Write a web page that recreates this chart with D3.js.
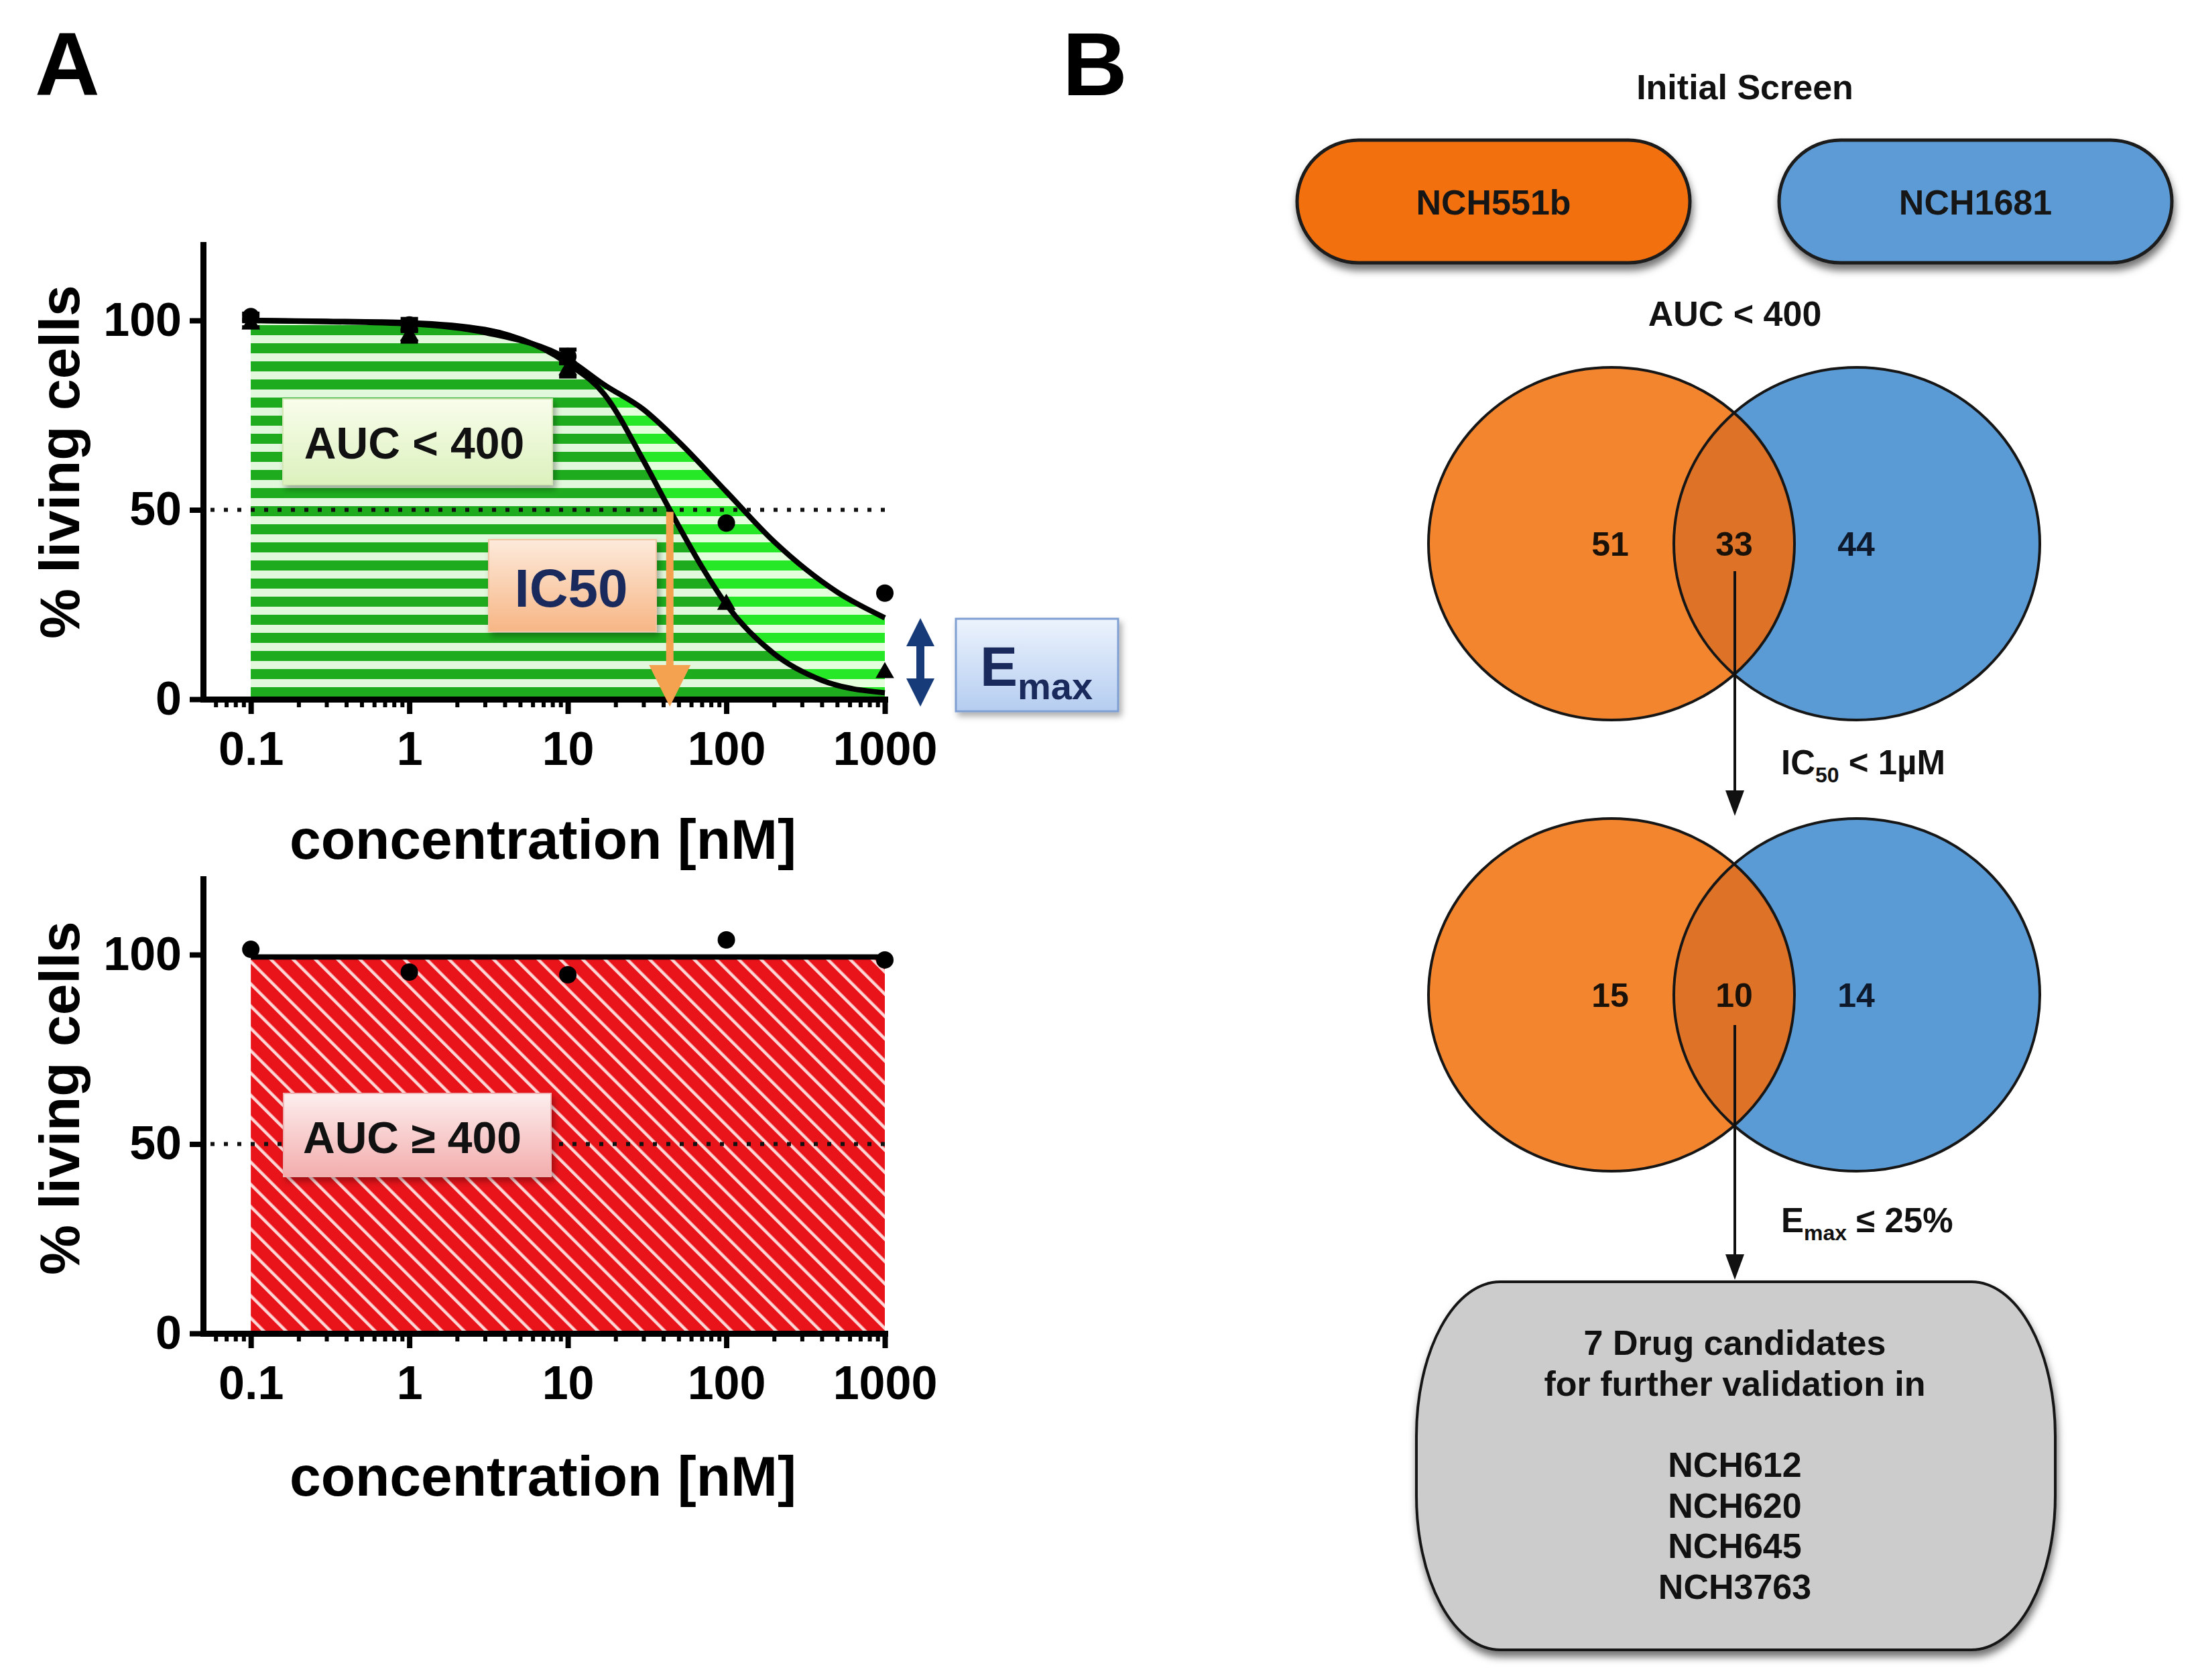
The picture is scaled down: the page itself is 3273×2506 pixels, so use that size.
<!DOCTYPE html>
<html>
<head>
<meta charset="utf-8">
<script src="https://cdn.jsdelivr.net/npm/d3@7/dist/d3.min.js"></script>
<style>
html,body{margin:0;padding:0;background:#fff;}
svg{display:block;}
text{font-family:"Liberation Sans",Arial,Helvetica,sans-serif;font-weight:bold;}
</style>
</head>
<body>
<svg id="fig" width="3273" height="2506" viewBox="0 0 3273 2506"></svg>
<script>
// ---------------- DATA ----------------
const concentrations = [0.1, 1, 10, 100, 1000];          // nM
const xTickLabels = ["0.1", "1", "10", "100", "1000"];
const yTickValues = [0, 50, 100];
const yTickLabels = ["0", "50", "100"];

// sensitive drug (top plot): two cell lines, circles and triangles
const sensCircleMean = [101, 98.8, 90.5, 46.5, 28];
const sensCircleErr  = [0.8, 1.6, 1.8, 0, 0];
const sensTriMean    = [99, 96, 87, 25, 7];
const sensTriErr     = [0.8, 1.6, 1.8, 0, 0];

// fitted curves
const fitCircleConc = [0.1, 0.3, 1, 3, 10, 17, 30, 50, 100, 200, 500, 1000];
const fitCircleVal  = [100, 99.7, 99.1, 96.8, 89.8, 83, 76.5, 68, 54.8, 41.6, 28.3, 21.5];
const fitTriConc    = [0.1, 0.3, 1, 3, 10, 17, 30, 44, 70, 100, 200, 400, 1000];
const fitTriVal     = [100, 99.8, 99.4, 97.6, 88.6, 80.5, 63, 50, 35, 25, 12, 5, 1.7];

// resistant drug (bottom plot)
const resMean    = [101.4, 95.4, 94.7, 103.9, 98.6];
const resFitConc = [0.1, 1000];
const resFitVal  = [99.4, 99.4];

const ic50Conc = 44;      // nM
const halfLevel = 50;     // %

// panel B
const cellLines = ["NCH551b", "NCH1681"];
const vennAUC  = [51, 33, 44];
const vennIC50 = [15, 10, 14];
const resultLines = ["7 Drug candidates", "for further validation in", "", "NCH612", "NCH620", "NCH645", "NCH3763"];

// ---------------- SETUP ----------------
const svg = d3.select("#fig");
svg.append("rect").attr("width", 3273).attr("height", 2506).attr("fill", "#fff");
const defs = svg.append("defs");

function shadow(id, dx, dy, sd, op) {
  const f = defs.append("filter").attr("id", id)
    .attr("x", "-20%").attr("y", "-20%").attr("width", "150%").attr("height", "160%");
  f.append("feDropShadow").attr("dx", dx).attr("dy", dy).attr("stdDeviation", sd)
    .attr("flood-color", "#000").attr("flood-opacity", op);
}
shadow("boxShadow", 4, 6, 5, 0.32);
shadow("pillShadow", 2, 9, 6, 0.55);

function vGrad(id, c1, c2) {
  const g = defs.append("linearGradient").attr("id", id)
    .attr("x1", 0).attr("y1", 0).attr("x2", 0).attr("y2", 1);
  g.append("stop").attr("offset", "0%").attr("stop-color", c1);
  g.append("stop").attr("offset", "100%").attr("stop-color", c2);
}
vGrad("gAUC", "#f9fdec", "#dcf1bd");
vGrad("gAUCr", "#fdeeee", "#f3adad");
vGrad("gIC50", "#fdeadb", "#f7b685");
vGrad("gEmax", "#ecf3fd", "#b5cdf0");

function hStripes(id, green, light) {
  const p = defs.append("pattern").attr("id", id).attr("patternUnits", "userSpaceOnUse")
    .attr("x", 0).attr("y", 14).attr("width", 40).attr("height", 27);
  p.append("rect").attr("width", 40).attr("height", 27).attr("fill", light);
  p.append("rect").attr("y", 12).attr("width", 40).attr("height", 15).attr("fill", green);
}
hStripes("stripeBright", "#27e827", "#e4ffdc");
hStripes("stripeDark", "#1eac1e", "#e2f8dc");

const rp = defs.append("pattern").attr("id", "diagRed").attr("patternUnits", "userSpaceOnUse")
  .attr("width", 23.5).attr("height", 23.5).attr("patternTransform", "rotate(-45)");
rp.append("rect").attr("width", 23.5).attr("height", 23.5).attr("fill", "#e8141a");
rp.append("rect").attr("width", 4.5).attr("height", 23.5).attr("fill", "#ffd6d6");

// ---------------- SCALES ----------------
const x = d3.scaleLog().domain([0.05, 1000]).range([303, 1320]);
const yTop = d3.scaleLinear().domain([0, 120]).range([1043, 365]);
const yBot = d3.scaleLinear().domain([0, 120]).range([1989, 1311]);

function drawAxes(y) {
  const g = svg.append("g");
  const minor = x.ticks().filter(v => !concentrations.some(c => Math.abs(c - v) < 1e-9) && v > 0.05);
  const gm = g.append("g").attr("transform", `translate(0,${y(0)})`)
    .call(d3.axisBottom(x).tickValues(minor).tickSize(12).tickSizeOuter(0).tickFormat(""));
  gm.select(".domain").remove();
  gm.selectAll(".tick line").attr("stroke", "#000").attr("stroke-width", 6);

  const gx = g.append("g").attr("transform", `translate(0,${y(0)})`)
    .call(d3.axisBottom(x).tickValues(concentrations).tickSize(22).tickSizeOuter(0)
      .tickPadding(26).tickFormat((d, i) => xTickLabels[i]));
  gx.select(".domain").attr("stroke", "#000").attr("stroke-width", 9).attr("stroke-linecap", "square");
  gx.selectAll(".tick line").attr("stroke", "#000").attr("stroke-width", 8);
  gx.selectAll(".tick text").attr("font-size", 70).attr("fill", "#000")
    .attr("font-family", '"Liberation Sans",Arial,sans-serif').attr("font-weight", "bold");

  const gy = g.append("g").attr("transform", `translate(${x(0.05)},0)`)
    .call(d3.axisLeft(y).tickValues(yTickValues).tickSize(20).tickSizeOuter(0)
      .tickPadding(12).tickFormat((d, i) => yTickLabels[i]));
  gy.select(".domain").attr("stroke", "#000").attr("stroke-width", 9).attr("stroke-linecap", "square");
  gy.selectAll(".tick line").attr("stroke", "#000").attr("stroke-width", 8);
  gy.selectAll(".tick text").attr("font-size", 70).attr("fill", "#000")
    .attr("font-family", '"Liberation Sans",Arial,sans-serif').attr("font-weight", "bold");
}

function axisTitles(y, cy, baseline) {
  svg.append("text").attr("transform", `translate(118,${cy}) rotate(-90)`)
    .attr("text-anchor", "middle").attr("font-size", 84).attr("fill", "#000").text("% living cells");
  svg.append("text").attr("x", 810).attr("y", baseline).attr("text-anchor", "middle")
    .attr("font-size", 84).attr("fill", "#000").text("concentration [nM]");
}

function dotted(y) {
  svg.append("line").attr("x1", 314).attr("x2", x(1000)).attr("y1", y(halfLevel)).attr("y2", y(halfLevel))
    .attr("stroke", "#111").attr("stroke-width", 6).attr("stroke-dasharray", "6 14");
}

// ---------------- PANEL A : top ----------------
svg.append("text").attr("x", 52).attr("y", 142).attr("font-size", 134).attr("fill", "#000").text("A");

const fitC = fitCircleConc.map((c, i) => [c, fitCircleVal[i]]);
const fitT = fitTriConc.map((c, i) => [c, fitTriVal[i]]);

const areaTop = d3.area().x(d => x(d[0])).y0(yTop(0)).y1(d => yTop(d[1])).curve(d3.curveMonotoneX);
const lineTop = d3.line().x(d => x(d[0])).y(d => yTop(d[1])).curve(d3.curveMonotoneX);

svg.append("path").attr("d", areaTop(fitC)).attr("fill", "url(#stripeBright)");
svg.append("path").attr("d", areaTop(fitT)).attr("fill", "url(#stripeDark)");
dotted(yTop);

svg.append("path").attr("d", lineTop(fitC)).attr("fill", "none").attr("stroke", "#000").attr("stroke-width", 8);
svg.append("path").attr("d", lineTop(fitT)).attr("fill", "none").attr("stroke", "#000").attr("stroke-width", 8);

function errBars(means, errs, y) {
  concentrations.forEach((c, i) => {
    if (!errs[i]) return;
    const cx = x(c), a = y(means[i] - errs[i]), b = y(means[i] + errs[i]);
    svg.append("line").attr("x1", cx).attr("x2", cx).attr("y1", a).attr("y2", b).attr("stroke", "#000").attr("stroke-width", 6);
    [a, b].forEach(v => svg.append("line").attr("x1", cx - 13).attr("x2", cx + 13).attr("y1", v).attr("y2", v)
      .attr("stroke", "#000").attr("stroke-width", 6));
  });
}
errBars(sensCircleMean, sensCircleErr, yTop);
errBars(sensTriMean, sensTriErr, yTop);

svg.append("g").selectAll("circle").data(sensCircleMean).join("circle")
  .attr("cx", (d, i) => x(concentrations[i])).attr("cy", d => yTop(d)).attr("r", 13).attr("fill", "#000");
const tri = d3.symbol(d3.symbolTriangle, 330);
svg.append("g").selectAll("path").data(sensTriMean).join("path")
  .attr("transform", (d, i) => `translate(${x(concentrations[i])},${yTop(d)})`).attr("d", tri).attr("fill", "#000");

drawAxes(yTop);
axisTitles(yTop, 689, 1281);

// IC50 arrow
{
  const xi = x(ic50Conc), top = yTop(halfLevel) + 3, hy = 992, tip = 1054;
  const p = d3.path();
  p.moveTo(xi - 5.5, top); p.lineTo(xi - 5.5, hy); p.lineTo(xi - 31, hy); p.lineTo(xi, tip);
  p.lineTo(xi + 31, hy); p.lineTo(xi + 5.5, hy); p.lineTo(xi + 5.5, top); p.closePath();
  svg.append("path").attr("d", p.toString()).attr("fill", "#f4a150");
}

// annotation boxes
svg.append("rect").attr("x", 422).attr("y", 595).attr("width", 402).attr("height", 128)
  .attr("fill", "url(#gAUC)").attr("stroke", "#d3e8b4").attr("stroke-width", 2).attr("filter", "url(#boxShadow)");
svg.append("text").attr("x", 618).attr("y", 684).attr("text-anchor", "middle").attr("font-size", 66)
  .attr("font-family", "Lato,'Open Sans',sans-serif").attr("fill", "#111").text("AUC < 400");

svg.append("rect").attr("x", 729).attr("y", 805).attr("width", 250).attr("height", 137)
  .attr("fill", "url(#gIC50)").attr("stroke", "#f3c4a0").attr("stroke-width", 2).attr("filter", "url(#boxShadow)");
svg.append("text").attr("x", 852).attr("y", 905).attr("text-anchor", "middle").attr("font-size", 80)
  .attr("fill", "#1b2a5c").text("IC50");

// Emax double arrow
{
  const x0 = 1373, top = 922, bot = 1054, hw = 21, hl = 42, sw = 6;
  const p = d3.path();
  p.moveTo(x0, top); p.lineTo(x0 + hw, top + hl); p.lineTo(x0 + sw, top + hl); p.lineTo(x0 + sw, bot - hl);
  p.lineTo(x0 + hw, bot - hl); p.lineTo(x0, bot); p.lineTo(x0 - hw, bot - hl); p.lineTo(x0 - sw, bot - hl);
  p.lineTo(x0 - sw, top + hl); p.lineTo(x0 - hw, top + hl); p.closePath();
  svg.append("path").attr("d", p.toString()).attr("fill", "#173a78");
}
svg.append("rect").attr("x", 1426).attr("y", 923).attr("width", 242).attr("height", 138)
  .attr("fill", "url(#gEmax)").attr("stroke", "#7f9fd2").attr("stroke-width", 3).attr("filter", "url(#boxShadow)");
{
  const t = svg.append("text").attr("x", 1462).attr("y", 1023).attr("fill", "#1b2a5c").attr("font-size", 84);
  t.append("tspan").text("E");
  t.append("tspan").attr("font-size", 56).attr("dy", 20).text("max");
}

// ---------------- PANEL A : bottom ----------------
const resFit = resFitConc.map((c, i) => [c, resFitVal[i]]);
const areaBot = d3.area().x(d => x(d[0])).y0(yBot(0)).y1(d => yBot(d[1]));
svg.append("path").attr("d", areaBot(resFit)).attr("fill", "url(#diagRed)");
dotted(yBot);
svg.append("path").attr("d", d3.line().x(d => x(d[0])).y(d => yBot(d[1]))(resFit))
  .attr("fill", "none").attr("stroke", "#000").attr("stroke-width", 8);
svg.append("g").selectAll("circle").data(resMean).join("circle")
  .attr("cx", (d, i) => x(concentrations[i])).attr("cy", d => yBot(d)).attr("r", 13).attr("fill", "#000");
drawAxes(yBot);
axisTitles(yBot, 1638, 2231);

svg.append("rect").attr("x", 423).attr("y", 1631).attr("width", 399).attr("height", 124)
  .attr("fill", "url(#gAUCr)").attr("stroke", "#eeb0b0").attr("stroke-width", 2).attr("filter", "url(#boxShadow)");
svg.append("text").attr("x", 615).attr("y", 1720).attr("text-anchor", "middle").attr("font-size", 66)
  .attr("font-family", "Lato,'Open Sans',sans-serif").attr("fill", "#111").text("AUC \u2265 400");

// ---------------- PANEL B ----------------
svg.append("text").attr("x", 1585).attr("y", 142).attr("font-size", 134).attr("fill", "#000").text("B");
svg.append("text").attr("x", 2603).attr("y", 148).attr("text-anchor", "middle").attr("font-size", 52)
  .attr("fill", "#111").text("Initial Screen");

const pills = [{x: 1935, fill: "#f2700f"}, {x: 2654, fill: "#5b9bd5"}];
pills.forEach((p, i) => {
  svg.append("rect").attr("x", p.x).attr("y", 209).attr("width", 586).attr("height", 183).attr("rx", 91.5)
    .attr("fill", p.fill).attr("stroke", "#1a1a1a").attr("stroke-width", 5).attr("filter", "url(#pillShadow)");
  svg.append("text").attr("x", p.x + 293).attr("y", 320).attr("text-anchor", "middle").attr("font-size", 52)
    .attr("fill", "#161616").text(cellLines[i]);
});

svg.append("text").attr("x", 2588).attr("y", 486).attr("text-anchor", "middle").attr("font-size", 52)
  .attr("fill", "#111").text("AUC < 400");

function venn(cy, vals, idx) {
  const cxL = 2404, cxR = 2770, rx = 273, ry = 263;
  const clipId = "clipL" + idx;
  defs.append("clipPath").attr("id", clipId).append("ellipse")
    .attr("cx", cxL).attr("cy", cy).attr("rx", rx).attr("ry", ry);
  svg.append("ellipse").attr("cx", cxL).attr("cy", cy).attr("rx", rx).attr("ry", ry).attr("fill", "#f4852f");
  svg.append("ellipse").attr("cx", cxR).attr("cy", cy).attr("rx", rx).attr("ry", ry).attr("fill", "#5b9bd5");
  svg.append("ellipse").attr("cx", cxR).attr("cy", cy).attr("rx", rx).attr("ry", ry).attr("fill", "#de7327")
    .attr("clip-path", `url(#${clipId})`);
  [cxL, cxR].forEach(cx => svg.append("ellipse").attr("cx", cx).attr("cy", cy).attr("rx", rx).attr("ry", ry)
    .attr("fill", "none").attr("stroke", "#161616").attr("stroke-width", 4));
  const lx = [2402, 2587, 2769];
  vals.forEach((v, i) => svg.append("text").attr("x", lx[i]).attr("y", cy + 18).attr("text-anchor", "middle")
    .attr("font-size", 50).attr("fill", i === 2 ? "#0e1a2c" : "#1a1208").text(v));
}
venn(811, vennAUC, 1);
venn(1484, vennIC50, 2);

function downArrow(xa, y1, y2) {
  svg.append("line").attr("x1", xa).attr("x2", xa).attr("y1", y1).attr("y2", y2 - 30)
    .attr("stroke", "#111").attr("stroke-width", 4);
  const p = d3.path();
  p.moveTo(xa - 14, y2 - 38); p.lineTo(xa + 14, y2 - 38); p.lineTo(xa, y2); p.closePath();
  svg.append("path").attr("d", p.toString()).attr("fill", "#111");
}
downArrow(2588, 852, 1217);
downArrow(2588, 1529, 1909);

{
  const t = svg.append("text").attr("x", 2657).attr("y", 1155).attr("font-size", 51).attr("fill", "#111");
  t.append("tspan").text("IC");
  t.append("tspan").attr("font-size", 32).attr("dy", 12).text("50");
  t.append("tspan").attr("dy", -12).text(" < 1\u00b5M");
}
{
  const t = svg.append("text").attr("x", 2657).attr("y", 1838).attr("font-size", 51).attr("fill", "#111");
  t.append("tspan").text("E");
  t.append("tspan").attr("font-size", 32).attr("dy", 12).text("max");
  t.append("tspan").attr("dy", -12).text(" \u2264 25%");
}

svg.append("rect").attr("x", 2113).attr("y", 1912).attr("width", 953).attr("height", 549)
  .attr("rx", 125).attr("ry", 230).attr("fill", "#cccccc").attr("stroke", "#161616").attr("stroke-width", 4)
  .attr("filter", "url(#pillShadow)");
const lineY = [2021, 2082, 2142, 2203, 2264, 2324, 2385];
resultLines.forEach((s, i) => {
  if (!s) return;
  svg.append("text").attr("x", 2588).attr("y", lineY[i]).attr("text-anchor", "middle")
    .attr("font-size", 52).attr("fill", "#111").text(s);
});
</script>
</body>
</html>
